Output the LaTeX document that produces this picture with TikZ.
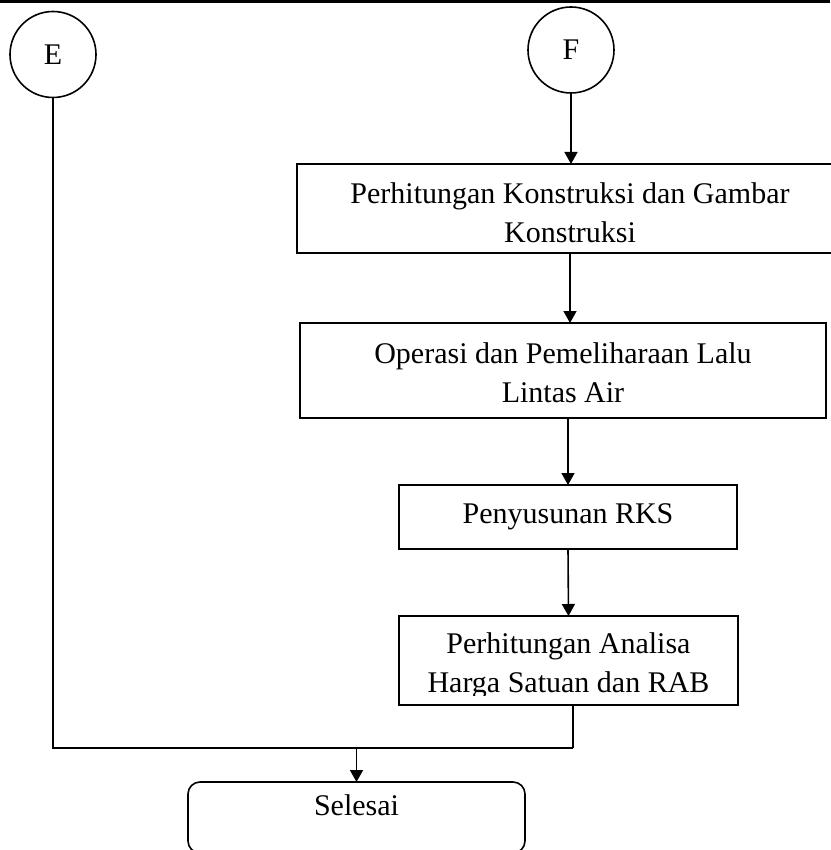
\documentclass[tikz,border=0pt]{standalone}
\usepackage{fontspec}
\setmainfont{Liberation Serif}
\usetikzlibrary{arrows.meta}
\begin{document}
\begin{tikzpicture}[x=1pt, y=-1pt, line width=1.6pt,
    font=\fontsize{30}{39}\selectfont,
    conn/.style={circle, draw, minimum size=86pt, inner sep=0pt},
    kotak/.style={rectangle, draw, inner sep=0pt, outer sep=0pt, align=center},
    arr/.style={-{Triangle[length=12pt, width=13pt]}}]
      \useasboundingbox (0,0) rectangle (830,850);
      \draw[line width=6pt] (0,0) -- (830,0);
      %
      \node[conn] (E) at (53,54.5) {E};
      \node[conn] (F) at (571,50) {F};
      %
      \node[kotak, minimum width=546pt, minimum height=89pt,
        text height=70pt, text depth=3pt] (b1) at (570,208.5)
        {Perhitungan Konstruksi dan Gambar\\Konstruksi};
      \node[kotak, minimum width=526pt, minimum height=95pt,
        text height=70pt, text depth=7pt] (b2) at (563,370.5)
        {Operasi dan Pemeliharaan Lalu\\Lintas Air};
      \node[kotak, minimum width=338pt, minimum height=64pt,
        text height=20pt, text depth=8pt] (b3) at (568,517)
        {Penyusunan RKS};
      \begin{scope}
        \clip (0,0) rectangle (830,695);
        \node[kotak, draw=none, minimum width=339pt, minimum height=89pt,
          text height=70pt, text depth=7pt] (b4) at (568.5,660.5)
          {Perhitungan Analisa\\Harga Satuan dan RAB};
      \end{scope}
      \draw (b4.north west) rectangle (b4.south east);
      \node[kotak, rounded corners=12pt, minimum width=337pt, minimum height=71pt,
        text height=20pt, text depth=25pt] (fin) at (356.5,817.5) {Selesai};
      %
      \coordinate (m) at (573,748);
      %
      \draw[arr] (F.south) -- (F.south |- b1.north);
      \draw[arr] (b1.south) -- (b1.south |- b2.north);
      \draw[arr] (b3.north |- b2.south) -- (b3.north);
      \draw[arr] (b3.south) -- (b4.north);
      \draw (E.south) |- (m);
      \draw (b4.south -| m) -- (m);
      \draw[arr] (fin.north |- m) -- (fin.north);
      %
    \end{tikzpicture}
\end{document}
